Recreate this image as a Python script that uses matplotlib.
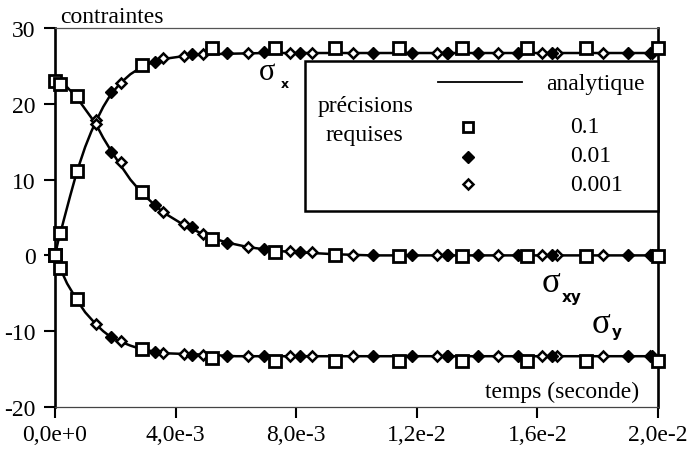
import numpy as np
import matplotlib
matplotlib.use('Agg')
import matplotlib.pyplot as plt
from matplotlib.lines import Line2D
from matplotlib.patches import Rectangle

plt.rcParams['font.family'] = ['Liberation Serif', 'DejaVu Serif']

# ---------------- data (time in ms, stresses) ----------------
# analytic curves
t_an_x = [0, 0.1, 0.17, 0.3, 0.5, 0.73, 1.0, 1.2, 1.36, 1.6, 1.86, 2.19, 2.5, 2.89, 3.32, 3.58, 4.28, 4.91, 5.7, 7.0, 20.0]
sx_an = [0, 1.8, 2.8, 4.8, 7.8, 11.1, 14.3, 16.3, 17.7, 19.6, 21.3, 22.8, 23.9, 24.9, 25.6, 25.9, 26.3, 26.5, 26.6, 26.7, 26.7]

t_an_xy = [0, 0.17, 0.4, 0.73, 1.0, 1.2, 1.36, 1.6, 1.86, 2.19, 2.5, 2.89, 3.32, 3.58, 4.28, 4.91, 5.21, 5.7, 6.4, 7.3, 8.13, 9.3, 10.5, 20.0]
sxy_an = [23.0, 22.8, 22.2, 20.8, 19.3, 18.2, 17.3, 15.5, 13.8, 11.8, 10.0, 8.2, 6.6, 5.7, 4.0, 2.8, 2.3, 1.7, 1.1, 0.6, 0.4, 0.15, 0.0, 0.0]

t_an_y = [0, 0.17, 0.4, 0.73, 1.0, 1.36, 1.6, 1.86, 2.19, 2.5, 2.89, 3.32, 3.58, 4.28, 5.0, 6.0, 20.0]
sy_an = [0, -1.7, -3.7, -5.9, -7.5, -9.1, -10.0, -10.8, -11.4, -11.9, -12.4, -12.7, -12.9, -13.0, -13.1, -13.3, -13.3]

# precision 0.1 (squares)
t_sq = [0, 0.17, 0.73, 2.89, 5.21, 7.30, 9.29, 11.41, 13.50, 15.66, 17.61, 20.0]
sx_sq = [0, 3.0, 11.1, 25.1, 27.3, 27.3, 27.3, 27.3, 27.3, 27.3, 27.3, 27.3]
sxy_sq = [23.0, 22.6, 21.0, 8.3, 2.1, 0.5, 0.1, -0.1, -0.1, -0.1, -0.1, -0.1]
sy_sq = [0, -1.6, -5.7, -12.4, -13.5, -13.9, -13.9, -13.9, -13.9, -13.9, -13.9, -13.9]

# precision 0.01 (filled diamonds)
t_fd = [0, 1.86, 3.32, 4.54, 5.70, 6.93, 8.13, 10.55, 11.84, 13.0, 14.03, 15.36, 16.48, 19.0, 19.8]
sx_fd = [0, 21.6, 25.5, 26.6, 26.7, 26.8, 26.7, 26.7, 26.7, 26.7, 26.7, 26.7, 26.7, 26.7, 26.7]
sxy_fd = [23.0, 13.7, 6.6, 3.7, 1.7, 0.9, 0.4, 0.1, 0.0, 0.0, 0.0, 0.0, 0.0, 0.0, 0.0]
sy_fd = [0, -10.8, -12.7, -13.2, -13.3, -13.3, -13.3, -13.3, -13.3, -13.3, -13.3, -13.3, -13.3, -13.3, -13.3]

# precision 0.001 (open diamonds)
t_od = [0, 1.36, 2.19, 3.58, 4.28, 4.91, 6.40, 7.79, 8.52, 9.88, 12.67, 13.03, 14.69, 16.15, 16.65, 18.18, 19.73]
sx_od = [0, 17.9, 22.8, 26.0, 26.3, 26.6, 26.7, 26.7, 26.7, 26.7, 26.7, 26.7, 26.7, 26.7, 26.7, 26.7, 26.7]
sxy_od = [23.0, 17.3, 12.3, 5.7, 4.1, 2.8, 1.1, 0.6, 0.4, 0.1, 0.0, 0.0, 0.0, 0.0, 0.0, 0.0, 0.0]
sy_od = [0, -9.1, -11.3, -12.9, -13.0, -13.1, -13.3, -13.3, -13.3, -13.3, -13.3, -13.3, -13.3, -13.3, -13.3, -13.3, -13.3]

x_ticks = [0, 0.004, 0.008, 0.012, 0.016, 0.020]
x_ticklabels = ['0,0e+0', '4,0e-3', '8,0e-3', '1,2e-2', '1,6e-2', '2,0e-2']
y_ticks = [-20, -10, 0, 10, 20, 30]
y_ticklabels = ['-20', '-10', '0', '10', '20', '30']

legend_labels = ['analytique', '0.1', '0.01', '0.001']

# ---------------- figure ----------------
W, H = 688, 456
fig = plt.figure(figsize=(W / 100, H / 100), dpi=100)
ax = fig.add_axes([55 / W, 1 - 408 / H, (658 - 55) / W, (408 - 29) / H])

ms2s = 1e-3
FS = 17

for t, v in [(t_an_x, sx_an), (t_an_xy, sxy_an), (t_an_y, sy_an)]:
    ax.plot(np.array(t) * ms2s, v, color='black', lw=1.8, zorder=2)

od_style = dict(ls='none', marker='D', ms=5.6, mfc='white', mec='black', mew=1.8, clip_on=False, zorder=3)
fd_style = dict(ls='none', marker='D', ms=6.4, mfc='black', mec='black', mew=1.0, clip_on=False, zorder=4)
sq_style = dict(ls='none', marker='s', ms=8.0, mfc='white', mec='black', mew=2.0, clip_on=False, zorder=5)

for v in (sx_od, sxy_od, sy_od):
    ax.plot(np.array(t_od) * ms2s, v, **od_style)
for v in (sx_fd, sxy_fd, sy_fd):
    ax.plot(np.array(t_fd) * ms2s, v, **fd_style)
for v in (sx_sq, sxy_sq, sy_sq):
    ax.plot(np.array(t_sq) * ms2s, v, **sq_style)

ax.set_xlim(0, 0.02)
ax.set_ylim(-20, 30)
ax.set_xticks(x_ticks)
ax.set_xticklabels(x_ticklabels, fontsize=FS)
ax.set_yticks(y_ticks)
ax.set_yticklabels(y_ticklabels, fontsize=FS)
ax.tick_params(axis='x', direction='out', length=8, width=1.5, pad=4, top=False)
ax.tick_params(axis='y', direction='out', length=8, width=1.5, pad=6, right=False)

ax.spines['left'].set_linewidth(1.9)
ax.spines['right'].set_linewidth(1.9)
ax.spines['top'].set_linewidth(0.9)
ax.spines['top'].set_color('#555555')
ax.spines['bottom'].set_linewidth(0.9)
ax.spines['bottom'].set_color('#444444')


def fx(x):
    return x / W


def fy(y):
    return 1 - y / H


fig.text(fx(60), fy(23), 'contraintes', fontsize=FS, ha='left', va='baseline')
fig.text(fx(639), fy(398), 'temps (seconde)', fontsize=FS, ha='right', va='baseline')

# sigma labels
fig.text(fx(259), fy(80), 'σ', fontsize=22, ha='left', va='baseline')
fig.text(fx(281), fy(88), 'x', fontsize=9, ha='left', va='baseline',
         family='DejaVu Sans', weight='bold')
fig.text(fx(542), fy(292), 'σ', fontsize=25, ha='left', va='baseline')
fig.text(fx(562), fy(302), 'xy', fontsize=11, ha='left', va='baseline',
         family='DejaVu Sans', weight='bold')
fig.text(fx(592), fy(333), 'σ', fontsize=25, ha='left', va='baseline')
fig.text(fx(612), fy(337), 'y', fontsize=11, ha='left', va='baseline',
         family='DejaVu Sans', weight='bold')

# legend box
fig.add_artist(Rectangle((fx(305), fy(212)), (658 - 305) / W, (212 - 62) / H,
                         transform=fig.transFigure, facecolor='white',
                         edgecolor='black', lw=1.8, zorder=6))
fig.add_artist(Line2D([fx(438), fx(522)], [fy(83), fy(83)], transform=fig.transFigure,
                      color='black', lw=1.3, zorder=7))
leg_sq = dict(sq_style); leg_sq.pop('clip_on'); leg_sq['zorder'] = 7
leg_fd = dict(fd_style); leg_fd.pop('clip_on'); leg_fd['zorder'] = 7
leg_od = dict(od_style); leg_od.pop('clip_on'); leg_od['zorder'] = 7
leg_sq['ms'] = 7.0
fig.add_artist(Line2D([fx(468)], [fy(128)], transform=fig.transFigure, **leg_sq))
fig.add_artist(Line2D([fx(468)], [fy(158)], transform=fig.transFigure, **leg_fd))
fig.add_artist(Line2D([fx(468)], [fy(185)], transform=fig.transFigure, **leg_od))

fig.text(fx(546), fy(90), legend_labels[0], fontsize=FS, ha='left', va='baseline', zorder=8)
fig.text(fx(570), fy(133), legend_labels[1], fontsize=FS, ha='left', va='baseline', zorder=8)
fig.text(fx(570), fy(162), legend_labels[2], fontsize=FS, ha='left', va='baseline', zorder=8)
fig.text(fx(570), fy(191), legend_labels[3], fontsize=FS, ha='left', va='baseline', zorder=8)
fig.text(fx(318), fy(112), 'précisions', fontsize=FS, ha='left', va='baseline', zorder=8)
fig.text(fx(325), fy(141), 'requises', fontsize=FS, ha='left', va='baseline', zorder=8)

fig.savefig('out.png', dpi=100)
